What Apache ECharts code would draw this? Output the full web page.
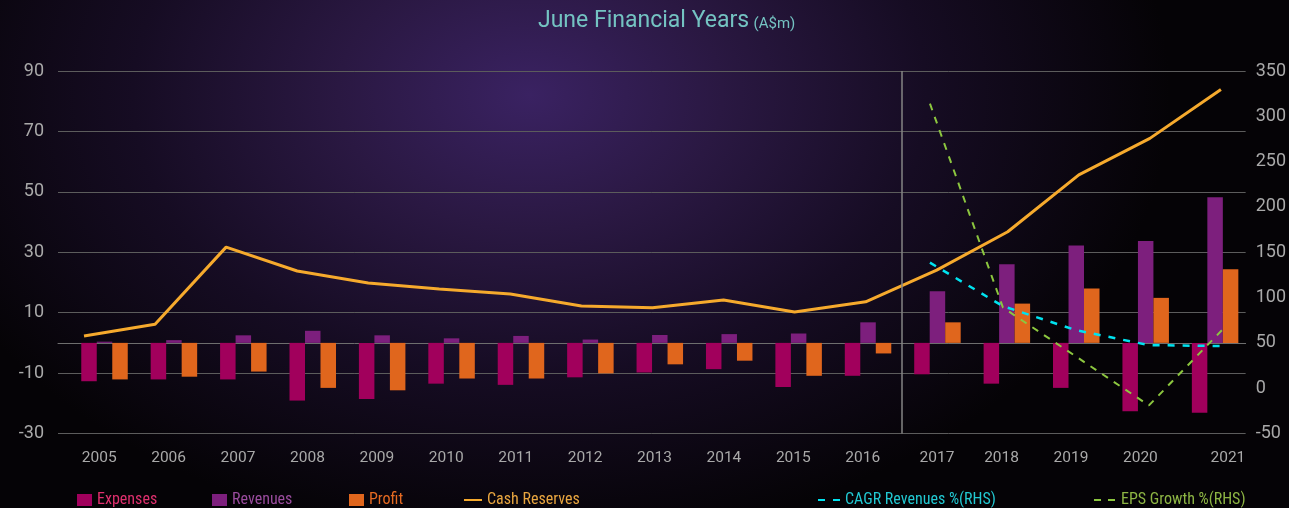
<!DOCTYPE html>
<html>
<head>
<meta charset="utf-8">
<title>June Financial Years</title>
<script src="https://cdn.jsdelivr.net/npm/echarts@6/dist/echarts.min.js"></script>
<style>
  html, body {
    margin: 0;
    padding: 0;
    width: 1289px;
    height: 508px;
    overflow: hidden;
    background: #040305;
  }
  #chart {
    width: 1289px;
    height: 508px;
    background: radial-gradient(ellipse 640px 450px at 530px 95px, #3a2262 0%, #2a1842 30%, #160c23 62%, #050306 100%);
  }
</style>
</head>
<body>
<div id="chart"></div>
<script>
// data
var years = ['2005', '2006', '2007', '2008', '2009', '2010', '2011', '2012', '2013',
  '2014', '2015', '2016', '2017', '2018', '2019', '2020', '2021'];
var expenses = [-12.7, -12.1, -12.1, -19.1, -18.6, -13.5, -13.9, -11.4, -9.8,
  -8.7, -14.6, -10.9, -10.4, -13.5, -14.9, -22.6, -23.1];
var revenues = [0.4, 0.9, 2.5, 4.0, 2.5, 1.5, 2.3, 1.1, 2.6,
  2.9, 3.1, 6.8, 17.1, 26.0, 32.2, 33.7, 48.2];
var profit = [-12.1, -11.2, -9.5, -14.9, -15.7, -11.8, -11.8, -10.1, -7.1,
  -5.9, -10.9, -3.5, 6.8, 13.0, 18.0, 14.9, 24.4];
var cashReserves = [2.3, 6.2, 31.7, 23.8, 19.8, 17.8, 16.2, 12.2, 11.6,
  14.2, 10.2, 13.6, 24.1, 36.8, 55.6, 67.7, 83.9];
// RHS series, only from 2017
var cagrRevenues = [null, null, null, null, null, null, null, null, null,
  null, null, null, 138.5, 90.5, 64, 47.5, 46.5];
var epsGrowth = [null, null, null, null, null, null, null, null, null,
  null, null, null, 314, 89, 35, -19, 64];

var leftTicks = { min: -30, max: 90, interval: 20 };
var rightTicks = { min: -50, max: 350, interval: 50 };

function pairs(arr) {
  var out = [];
  arr.forEach(function (v, i) {
    if (v !== null) out.push([i, v]);
  });
  return out;
}

var chart = echarts.init(document.getElementById('chart'));

var gridTop = 71, gridBottom = 74.5;
var labelColor = '#a9a9a9';
var font = "Roboto, 'Noto Sans', sans-serif";
var legendFont = "'Roboto Condensed', 'Liberation Sans Narrow', 'DejaVu Sans Condensed', Roboto, sans-serif";

// one legend per item so each sits where the reference has it
function legendAt(name, left, color, w, isLine) {
  var lg = {
    data: [name],
    left: left,
    top: 492,
    padding: 0,
    itemWidth: w,
    itemHeight: 12,
    itemGap: 0,
    selectedMode: false,
    textStyle: { color: color, fontSize: 16, fontFamily: legendFont }
  };
  if (isLine) {
    // keep the line, hide the marker in the middle
    lg.itemStyle = { opacity: 0, borderWidth: 0 };
  } else {
    lg.data = [{ name: name, icon: 'rect' }];
  }
  return lg;
}

var option = {
  backgroundColor: 'transparent',
  animation: false,
  textStyle: { fontFamily: font },
  title: {
    text: '{a|June Financial Years} {b|(A$m)}',
    left: 533,
    top: 5,
    textStyle: {
      fontWeight: 'normal',
      rich: {
        a: { fontSize: 23, color: '#74c3c2', fontFamily: font, fontWeight: 'normal' },
        b: { fontSize: 15, color: '#74c3c2', fontFamily: font, fontWeight: 'normal', padding: [5, 0, 0, 0] }
      }
    }
  },
  legend: [
    legendAt('Expenses', 77, '#e0306e', 15, false),
    legendAt('Revenues', 212, '#9a4c9e', 15, false),
    legendAt('Profit', 349, '#e56a22', 15, false),
    legendAt('Cash Reserves', 463, '#e9a640', 18, true),
    legendAt('CAGR Revenues %(RHS)', 817, '#22c9d2', 22, true),
    legendAt('EPS Growth %(RHS)', 1093, '#8db544', 22, true)
  ],
  grid: [
    { left: 58, right: 43.3, top: gridTop, bottom: gridBottom },
    { left: 69.8, right: 39.2, top: gridTop, bottom: gridBottom }
  ],
  xAxis: [
    {
      // cash reserves line
      type: 'value', gridIndex: 0, min: -0.3659, max: 16.348,
      axisLine: { show: true, onZero: true, onZeroAxisIndex: 0, lineStyle: { color: '#6e6e6e', width: 1 } },
      axisTick: { show: false }, axisLabel: { show: false }, splitLine: { show: false }
    },
    {
      // RHS dashed lines
      type: 'value', gridIndex: 0, min: 0.0548, max: 16.325, show: false
    },
    {
      // bars and year labels
      type: 'category', gridIndex: 1, data: years, boundaryGap: true,
      axisLine: { show: false, onZero: false }, axisTick: { show: false },
      axisLabel: {
        interval: 0,
        margin: 17,
        color: labelColor,
        fontSize: 15.5,
        formatter: function (v) {
          if (v === '2021') return '{r|' + v + '}';
          if (v === '2017') return '{s|' + v + '}';
          return '{n|' + v + '}';
        },
        rich: {
          n: { color: labelColor, fontSize: 15.5, padding: [0, 10.6, 0, 0] },
          s: { color: labelColor, fontSize: 15.5, padding: [0, 1, 0, 0] },
          r: { color: labelColor, fontSize: 15.5, padding: [0, 0, 0, 25.6] }
        }
      }
    }
  ],
  yAxis: [
    {
      type: 'value', gridIndex: 0, position: 'left',
      min: leftTicks.min, max: leftTicks.max, interval: leftTicks.interval,
      axisLine: { show: false }, axisTick: { show: false },
      axisLabel: { color: labelColor, fontSize: 18, margin: 14 },
      splitLine: { lineStyle: { color: '#5c5c5c', width: 1 } }
    },
    {
      type: 'value', gridIndex: 0, position: 'right',
      min: rightTicks.min, max: rightTicks.max, interval: rightTicks.interval,
      axisLine: { show: false }, axisTick: { show: false },
      axisLabel: { color: labelColor, fontSize: 18, margin: 10 },
      splitLine: { show: false }
    },
    {
      type: 'value', gridIndex: 1,
      min: leftTicks.min, max: leftTicks.max, interval: leftTicks.interval,
      show: false
    }
  ],
  series: [
    {
      name: 'Expenses', type: 'bar', xAxisIndex: 2, yAxisIndex: 2,
      data: expenses, barWidth: 15.5, barGap: '0%',
      itemStyle: { color: '#a1005c' }
    },
    {
      name: 'Revenues', type: 'bar', xAxisIndex: 2, yAxisIndex: 2,
      data: revenues, barWidth: 15.5, barGap: '0%',
      itemStyle: { color: '#7d1f7d' }
    },
    {
      name: 'Profit', type: 'bar', xAxisIndex: 2, yAxisIndex: 2,
      data: profit, barWidth: 15.5, barGap: '0%',
      itemStyle: { color: '#e0661d' }
    },
    {
      name: 'Cash Reserves', type: 'line', xAxisIndex: 0, yAxisIndex: 0,
      data: pairs(cashReserves), symbol: 'none', showSymbol: false,
      lineStyle: { color: '#f6aa2d', width: 3 },
      itemStyle: { color: '#f6aa2d' },
      markLine: {
        silent: true, symbol: 'none', label: { show: false },
        lineStyle: { color: '#858585', width: 1.5, type: 'solid' },
        data: [{ xAxis: 11.51 }]
      }
    },
    {
      name: 'CAGR Revenues %(RHS)', type: 'line', xAxisIndex: 1, yAxisIndex: 1,
      data: pairs(cagrRevenues), symbol: 'none', showSymbol: false,
      lineStyle: { color: '#00e3f0', width: 2.5, type: [7, 8] },
      itemStyle: { color: '#00e3f0' }
    },
    {
      name: 'EPS Growth %(RHS)', type: 'line', xAxisIndex: 1, yAxisIndex: 1,
      data: pairs(epsGrowth), symbol: 'none', showSymbol: false,
      lineStyle: { color: '#8cc63f', width: 2, type: [7, 7] },
      itemStyle: { color: '#8cc63f' }
    }
  ]
};

chart.setOption(option);
</script>
</body>
</html>
